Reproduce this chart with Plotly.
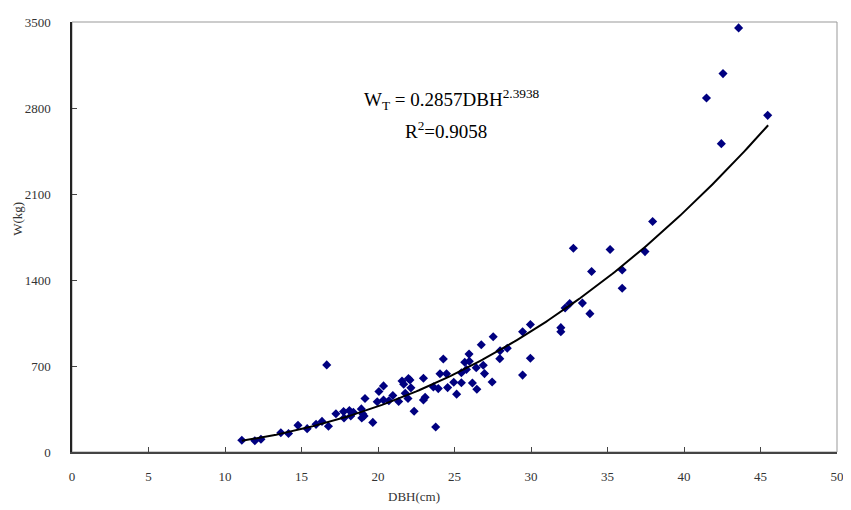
import numpy as np
import plotly.graph_objects as go

# Observed trees: DBH (cm) and total weight W (kg)
dbh = [11.1, 11.95, 12.35, 13.65, 14.15, 14.77, 15.37, 15.95, 16.34, 16.65,
       16.76, 17.25, 17.75, 17.78, 18.13, 18.22, 18.39, 18.91, 19.01, 18.94,
       19.09, 19.15, 19.66, 19.95, 20.06, 20.36, 20.36, 20.71, 20.97, 21.35,
       21.57, 21.68, 21.78, 21.96, 21.99, 22.09, 22.15, 22.36, 22.97, 22.97,
       23.08, 23.62, 23.77, 23.94, 24.05, 24.27, 24.48, 24.55, 24.95, 25.14,
       25.45, 25.45, 25.67, 25.78, 25.95, 25.97, 26.17, 26.42, 26.46, 26.75,
       26.88, 26.96, 27.46, 27.53, 27.98, 27.96, 28.45, 29.45, 29.45, 29.96,
       29.96, 31.95, 31.95, 32.23, 32.53, 32.77, 33.36, 33.85, 33.96, 35.17,
       35.96, 35.96, 37.45, 37.95, 41.47, 42.44, 42.55, 43.57, 45.47]
weight = [96, 92, 104, 157, 150, 217, 190, 225, 249, 709,
          209, 311, 329, 277, 337, 293, 324, 351, 309, 277,
          293, 436, 241, 409, 492, 538, 423, 417, 460, 411,
          578, 552, 478, 436, 598, 586, 522, 332, 600, 423,
          446, 530, 203, 516, 637, 757, 637, 524, 568, 471,
          645, 564, 731, 672, 797, 739, 562, 686, 511, 873,
          706, 638, 570, 938, 824, 760, 845, 979, 626, 1038,
          763, 1012, 979, 1172, 1208, 1659, 1212, 1126, 1469, 1648,
          1481, 1333, 1631, 1876, 2882, 2510, 3080, 3452, 2740]

# Fitted power model shown on the chart
coef_a = 0.2857
coef_b = 2.3938
fit_range = [11.1, 45.5]
fit_x = np.linspace(fit_range[0], fit_range[1], 200)
fit_y = coef_a * fit_x ** coef_b

x_ticks = [0, 5, 10, 15, 20, 25, 30, 35, 40, 45, 50]
y_ticks = [0, 700, 1400, 2100, 2800, 3500]

font_family = "Liberation Serif"

# plot area in page pixels (page body has an 8px margin)
PX0, PX1, PY0, PY1 = 72, 844, 16, 452
PW, PH = PX1 - PX0, PY1 - PY0


def px_x(v):
    return (v - PX0) / PW


def px_y(v):
    return (PY1 - v) / PH


def note(text, x, y, size, color="#333", angle=0):
    return dict(text=text, xref="paper", yref="paper", x=px_x(x), y=px_y(y),
                xanchor="center", yanchor="middle", textangle=angle,
                showarrow=False, font=dict(family=font_family, size=size, color=color))


fig = go.Figure()
fig.add_trace(go.Scatter(
    x=dbh, y=weight, mode="markers",
    marker=dict(symbol="diamond", size=7, color="#000080",
                line=dict(width=0)),
    showlegend=False, cliponaxis=False))
fig.add_trace(go.Scatter(
    x=fit_x, y=fit_y, mode="lines",
    line=dict(color="black", width=2),
    showlegend=False))

fig.update_layout(
    width=843, height=502,
    margin=dict(l=PX0 - 8, r=843 + 8 - PX1, t=PY0 - 8, b=502 + 8 - PY1),
    paper_bgcolor="white", plot_bgcolor="white",
    font=dict(family=font_family, size=13, color="#222"),
    xaxis=dict(range=[0, 50], tickvals=x_ticks, ticks="inside", ticklen=5,
               tickcolor="#444", showline=True, linecolor="#444", linewidth=2,
               showgrid=False, zeroline=False, ticklabelstandoff=11,
               tickfont=dict(family=font_family, size=13, color="#333")),
    yaxis=dict(range=[0, 3500], tickvals=y_ticks, ticks="inside", ticklen=5,
               tickcolor="#444", showline=True, linecolor="#222", linewidth=1.5,
               showgrid=False, zeroline=False, ticklabelstandoff=17,
               tickfont=dict(family=font_family, size=13, color="#333")),
    shapes=[dict(type="rect", xref="paper", yref="paper", x0=0, y0=0, x1=1, y1=1,
                 line=dict(color="#999", width=1), layer="below")],
    annotations=[
        note("W<sub>T</sub> = 0.2857DBH<sup>2.3938</sup>", 455, 95, 19, "black"),
        note("R<sup>2</sup>=0.9058", 449, 125, 19, "black"),
        note("DBH(cm)", 417, 497, 13),
        note("W(kg)", 17, 215, 13, angle=-90),
    ],
)

fig.write_html("out.html")
